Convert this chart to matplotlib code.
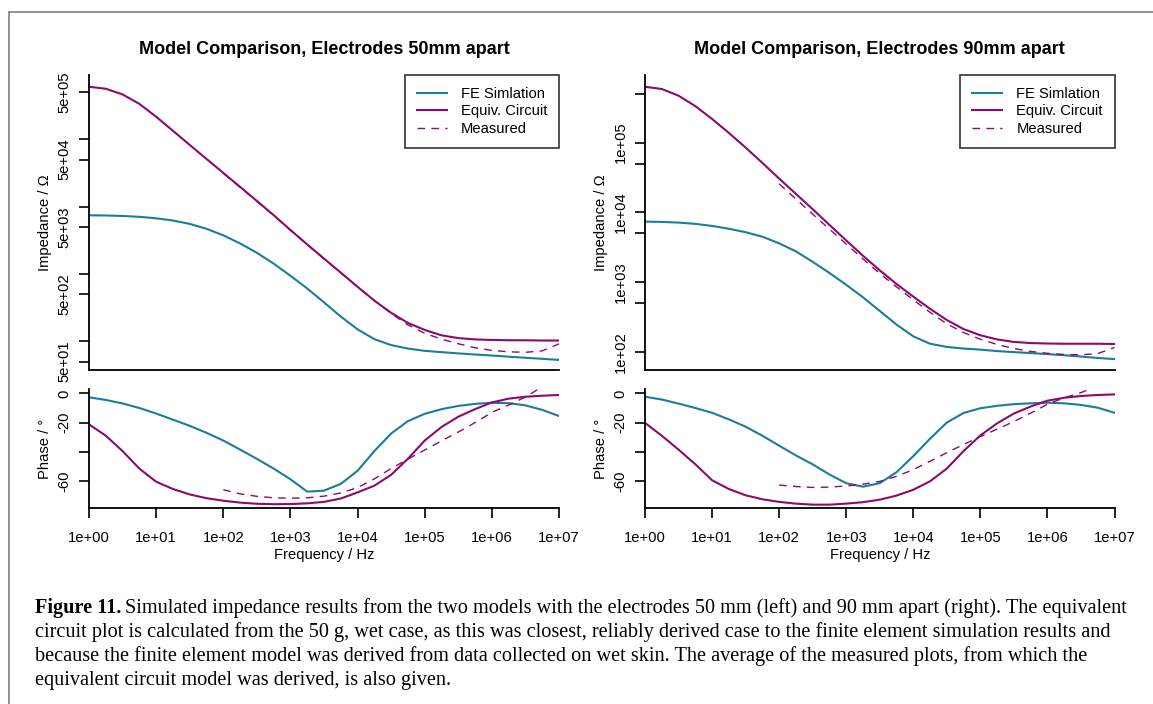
import matplotlib
matplotlib.use("Agg")
import matplotlib.pyplot as plt
from matplotlib.lines import Line2D
from matplotlib.ticker import FixedLocator, FixedFormatter

# ---------------------------------------------------------------- data
# frequency sweep, quarter-decade steps (Hz)
FREQ_HZ = [1.0, 1.78, 3.16, 5.62, 10.0, 17.8, 31.6, 56.2,
           100.0, 178.0, 316.0, 562.0, 1.0e3, 1.78e3, 3.16e3, 5.62e3,
           1.0e4, 1.78e4, 3.16e4, 5.62e4, 1.0e5, 1.78e5, 3.16e5, 5.62e5,
           1.0e6, 1.78e6, 3.16e6, 5.62e6, 1.0e7]
# measured averages start at 100 Hz
MEAS_FREQ_HZ = [100.0, 178.0, 316.0, 562.0, 1.0e3, 1.78e3, 3.16e3, 5.62e3,
                1.0e4, 1.78e4, 3.16e4, 5.62e4, 1.0e5, 1.78e5, 3.16e5, 5.62e5,
                1.0e6, 1.78e6, 3.16e6, 5.62e6, 1.0e7]

# impedance magnitude (ohm), electrodes 50 mm apart
Z_FE_50 = [7460, 7410, 7290, 7080, 6730, 6240, 5560, 4700, 3760, 2850, 2070,
           1430, 944, 610, 380, 234, 151, 108, 88.1, 78.2, 72.4, 69.2, 66.4,
           63.8, 61.7, 59.3, 57.1, 55.1, 53.1]
Z_EC_50 = [605e3, 565e3, 465e3, 337e3, 217e3, 134e3, 82.8e3, 51.3e3, 31.8e3,
           19.7e3, 12.2e3, 7500, 4520, 2750, 1700, 1050, 646, 403, 266, 188,
           148, 123, 112, 107, 105, 104, 104, 103, 103]
Z_MEAS_50 = [31.3e3, 19.5e3, 12.0e3, 7410, 4470, 2720, 1680, 1040, 646, 403,
             260, 176, 132, 108, 92.3, 80.4, 73.5, 70.0, 68.9, 72.4, 91.8]

# impedance magnitude (ohm), electrodes 90 mm apart
Z_FE_90 = [7360, 7290, 7130, 6840, 6380, 5820, 5190, 4470, 3590, 2750, 1950,
           1350, 912, 603, 385, 245, 166, 130, 117, 111, 107, 102, 98.6, 95.5,
           92.3, 88.9, 85.1, 81.3, 78.2]
Z_EC_90 = [635e3, 589e3, 473e3, 335e3, 219e3, 138e3, 85.1e3, 51.3e3, 30.5e3,
           18.4e3, 11.1e3, 6610, 3950, 2380, 1470, 938, 617, 412, 285, 211,
           172, 150, 138, 133, 131, 130, 130, 130, 129]
Z_MEAS_90 = [25.7e3, 15.5e3, 9440, 5750, 3510, 2140, 1330, 851, 556, 367,
             251, 188, 151, 127, 111, 101, 94.8, 91.2, 90.2, 93.8, 115]

# phase (degrees), electrodes 50 mm apart
P_FE_50 = [-2.7, -4.5, -6.9, -10.0, -13.8, -18.0, -22.2, -27.0, -32.3, -38.5,
           -44.8, -51.5, -58.8, -67.3, -66.6, -62.0, -53.0, -39.5, -27.5,
           -19.0, -14.0, -10.8, -8.6, -7.2, -6.4, -6.7, -8.2, -11.3, -15.5]
P_EC_50 = [-21.2, -29.0, -39.5, -51.5, -60.5, -65.5, -69.2, -71.8, -73.5,
           -74.8, -75.6, -75.9, -75.8, -75.3, -74.3, -72.0, -67.8, -63.2,
           -55.8, -44.8, -32.3, -23.0, -16.0, -10.8, -6.2, -3.6, -2.3, -1.6,
           -1.1]
P_MEAS_50 = [-66.0, -68.8, -70.5, -71.5, -71.8, -71.5, -70.4, -68.2, -64.5,
             -58.5, -51.5, -45.0, -38.8, -32.5, -26.5, -20.0, -13.0, -8.0,
             -2.5, 4.5, 10.0]

# phase (degrees), electrodes 90 mm apart
P_FE_90 = [-2.3, -4.2, -7.0, -10.0, -13.3, -17.8, -22.8, -29.0, -35.8, -42.5,
           -48.6, -55.5, -61.5, -63.9, -61.5, -54.0, -43.0, -31.0, -20.0,
           -13.4, -10.2, -8.5, -7.4, -6.8, -6.4, -6.8, -7.9, -9.8, -13.3]
P_EC_90 = [-20.2, -29.0, -38.5, -48.5, -59.5, -65.5, -69.8, -72.5, -74.3,
           -75.5, -76.2, -76.2, -75.5, -74.5, -72.8, -70.0, -66.0, -60.2,
           -51.5, -39.5, -28.8, -20.5, -13.8, -9.0, -5.0, -3.0, -1.8, -1.1,
           -0.7]
P_MEAS_90 = [-62.8, -63.8, -64.4, -64.2, -63.4, -62.2, -60.3, -56.8, -52.2,
             -46.5, -40.6, -35.0, -29.6, -24.5, -19.3, -13.5, -7.5, -3.0, 0.5,
             5.0, 10.0]

SERIES_LABELS = ["FE Simlation", "Equiv. Circuit", "Measured"]
TITLES = ["Model Comparison, Electrodes 50mm apart",
          "Model Comparison, Electrodes 90mm apart"]

X_TICKS = [1e0, 1e1, 1e2, 1e3, 1e4, 1e5, 1e6, 1e7]
X_TICK_LABELS = ["1e+00", "1e+01", "1e+02", "1e+03", "1e+04", "1e+05",
                 "1e+06", "1e+07"]
Z_TICKS_50 = [50, 100, 500, 1e3, 5e3, 1e4, 5e4, 1e5, 5e5]
Z_TICK_LABELS_50 = ["5e+01", "", "5e+02", "", "5e+03", "", "5e+04", "",
                    "5e+05"]
Z_TICKS_90 = [100, 500, 1e3, 5e3, 1e4, 5e4, 1e5, 5e5]
Z_TICK_LABELS_90 = ["1e+02", "", "1e+03", "", "1e+04", "", "1e+05", ""]
P_TICKS = [0, -20, -40, -60]
P_TICK_LABELS = ["0", "-20", "", "-60"]

CAPTION_BOLD = "Figure 11."
CAPTION_LINES = [
    "Simulated impedance results from the two models with the electrodes "
    "50 mm (left) and 90 mm apart (right). The equivalent",
    "circuit plot is calculated from the 50 g, wet case, as this was "
    "closest, reliably derived case to the finite element simulation results and",
    "because the finite element model was derived from data collected on wet "
    "skin. The average of the measured plots, from which the",
    "equivalent circuit model was derived, is also given.",
]

# ---------------------------------------------------------------- style
TEAL = "#1a7d9b"
PLUM = "#8c0a6c"
FS = 10.6
plt.rcParams["font.family"] = ["Liberation Sans", "DejaVu Sans"]
plt.rcParams["font.size"] = FS

W, H = 1153, 704
fig = plt.figure(figsize=(W / 100, H / 100), dpi=100)


def px_box(x0, x1, y0, y1):
    """Axes rectangle from pixel edges (origin at top-left)."""
    return [x0 / W, 1 - y1 / H, (x1 - x0) / W, (y1 - y0) / H]


def style_axes(ax):
    for side in ("top", "right"):
        ax.spines[side].set_visible(False)
    for side in ("left", "bottom"):
        ax.spines[side].set_linewidth(1.3)
    ax.tick_params(direction="out", length=7.5, width=1.2, labelsize=FS)
    ax.tick_params(axis="y", labelrotation=90, pad=5)
    ax.tick_params(axis="x", pad=9)
    ax.set_xscale("log")
    ax.set_xlim(1, 1e7)
    ax.xaxis.set_minor_locator(FixedLocator([]))
    ax.yaxis.set_minor_locator(FixedLocator([]))


def center_ylabels(ax):
    for lab in ax.get_yticklabels():
        lab.set_verticalalignment("center")


panels = [
    dict(left=89, right=559, z_fe=Z_FE_50, z_ec=Z_EC_50, z_ms=Z_MEAS_50,
         p_fe=P_FE_50, p_ec=P_EC_50, p_ms=P_MEAS_50, ylim=(37.6, 9.04e5),
         zt=Z_TICKS_50, ztl=Z_TICK_LABELS_50, title=TITLES[0]),
    dict(left=645, right=1114.5, z_fe=Z_FE_90, z_ec=Z_EC_90, z_ms=Z_MEAS_90,
         p_fe=P_FE_90, p_ec=P_EC_90, p_ms=P_MEAS_90, ylim=(54.6, 9.36e5),
         zt=Z_TICKS_90, ztl=Z_TICK_LABELS_90, title=TITLES[1]),
]

MEAS_DASH = (5.5, 4.5)

for pn in panels:
    # impedance magnitude
    axz = fig.add_axes(px_box(pn["left"], pn["right"], 75, 370))
    style_axes(axz)
    axz.set_yscale("log")
    axz.plot(FREQ_HZ, pn["z_fe"], color=TEAL, lw=1.5)
    axz.plot(FREQ_HZ, pn["z_ec"], color=PLUM, lw=1.5)
    axz.plot(MEAS_FREQ_HZ, pn["z_ms"], color=PLUM, lw=1.0, dashes=MEAS_DASH)
    axz.set_ylim(*pn["ylim"])
    axz.yaxis.set_major_locator(FixedLocator(pn["zt"]))
    axz.yaxis.set_major_formatter(FixedFormatter(pn["ztl"]))
    axz.yaxis.set_minor_locator(FixedLocator([]))
    axz.tick_params(axis="x", bottom=False, labelbottom=False)
    center_ylabels(axz)
    axz.set_ylabel("Impedance / \u03a9", labelpad=4)
    axz.set_title(pn["title"], fontsize=13, fontweight="bold", pad=15)

    handles = [Line2D([], [], color=TEAL, lw=1.5),
               Line2D([], [], color=PLUM, lw=1.5),
               Line2D([], [], color=PLUM, lw=1.0, dashes=MEAS_DASH)]
    leg = axz.legend(handles, SERIES_LABELS, loc="upper right",
                     bbox_to_anchor=(1.0, 1.0), borderaxespad=0.0,
                     fancybox=False, frameon=True, handlelength=2.05,
                     handletextpad=0.95, borderpad=0.8, labelspacing=0.25,
                     fontsize=FS)
    leg.get_frame().set_edgecolor("black")
    leg.get_frame().set_linewidth(1.2)

    # phase
    axp = fig.add_axes(px_box(pn["left"], pn["right"], 389, 508.3))
    style_axes(axp)
    axp.plot(FREQ_HZ, pn["p_fe"], color=TEAL, lw=1.5)
    axp.plot(FREQ_HZ, pn["p_ec"], color=PLUM, lw=1.5)
    axp.plot(MEAS_FREQ_HZ, pn["p_ms"], color=PLUM, lw=1.0, dashes=MEAS_DASH)
    axp.set_ylim(-78.7, 3.0)
    axp.yaxis.set_major_locator(FixedLocator(P_TICKS))
    axp.yaxis.set_major_formatter(FixedFormatter(P_TICK_LABELS))
    center_ylabels(axp)
    axp.xaxis.set_major_locator(FixedLocator(X_TICKS))
    axp.xaxis.set_major_formatter(FixedFormatter(X_TICK_LABELS))
    axp.set_ylabel("Phase / \u00b0", labelpad=4)
    axp.set_xlabel("Frequency / Hz", labelpad=2)

# page frame
fig.add_artist(Line2D([9 / W, 9 / W], [0, 1 - 12 / H], color="#8a8a8a",
                      lw=1.3, transform=fig.transFigure))
fig.add_artist(Line2D([9 / W, 1], [1 - 12 / H, 1 - 12 / H], color="#8a8a8a",
                      lw=1.3, transform=fig.transFigure))

# caption
CAP_FONT = ["Liberation Serif", "DejaVu Serif"]
CAP_FS = 14.6
cap_y = [606, 630, 654, 678]
bold = fig.text(35 / W, 1 - cap_y[0] / H, CAPTION_BOLD, family=CAP_FONT,
                fontsize=CAP_FS, fontweight="bold", va="center_baseline")
fig.canvas.draw()
bb = bold.get_window_extent(renderer=fig.canvas.get_renderer())
fig.text((bb.x1 + 4) / W, 1 - cap_y[0] / H, CAPTION_LINES[0],
         family=CAP_FONT, fontsize=CAP_FS, va="center_baseline")
for line, yy in zip(CAPTION_LINES[1:], cap_y[1:]):
    fig.text(35 / W, 1 - yy / H, line, family=CAP_FONT, fontsize=CAP_FS,
             va="center_baseline")

fig.savefig("out.png", dpi=100)
